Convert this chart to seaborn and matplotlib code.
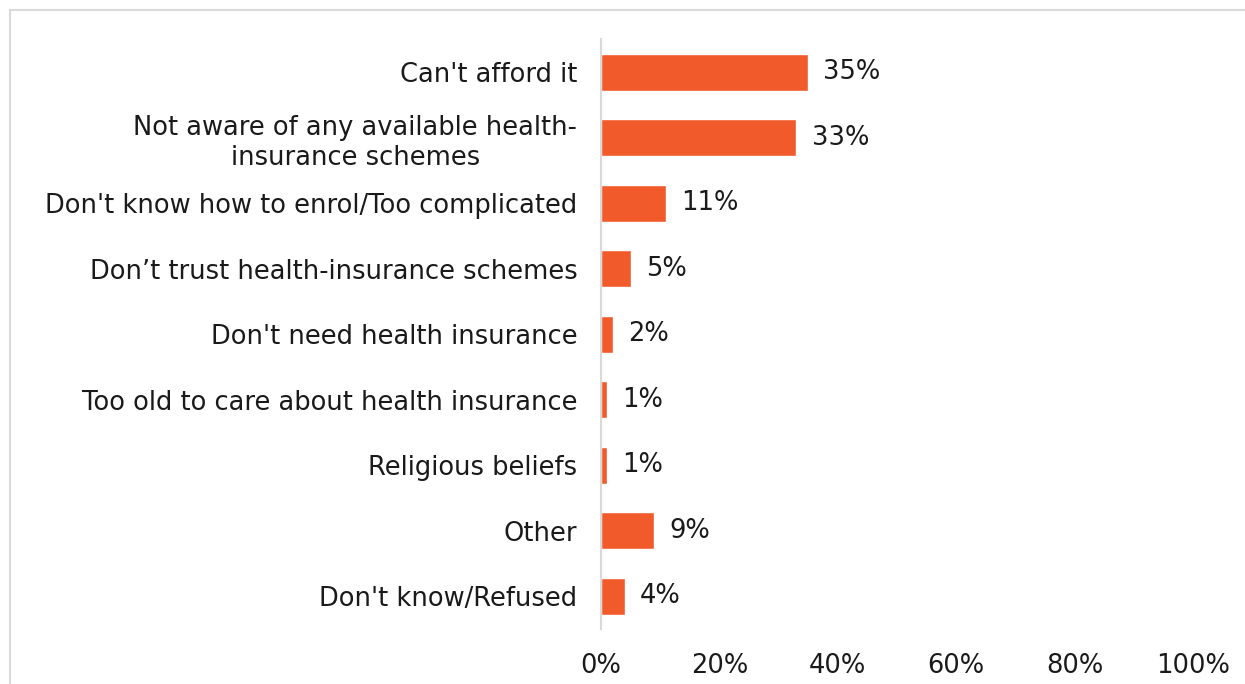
import matplotlib
matplotlib.use("Agg")
import matplotlib.pyplot as plt
from matplotlib.lines import Line2D
from matplotlib.ticker import FuncFormatter
import pandas as pd
import seaborn as sns

reasons = [
    "Can't afford it",
    "Not aware of any available health-\ninsurance schemes",
    "Don't know how to enrol/Too complicated",
    "Don\u2019t trust health-insurance schemes",
    "Don't need health insurance",
    "Too old to care about health insurance",
    "Religious beliefs",
    "Other",
    "Don't know/Refused",
]
shares = [35, 33, 11, 5, 2, 1, 1, 9, 4]
x_ticks = [0, 20, 40, 60, 80, 100]

BAR = "#F15A2B"
GRID = "#D9D9D9"
TEXT = "#1A1A1A"
FS = 18.5

sns.set_theme(style="white")
plt.rcParams["font.family"] = ["DejaVu Sans"]

df = pd.DataFrame({"reason": reasons, "share": shares})

fig = plt.figure(figsize=(12.45, 6.84), dpi=100)
ax = fig.add_axes([0.4827, 0.0804, 0.4755, 0.8619])

sns.barplot(data=df, x="share", y="reason", color=BAR, width=0.56,
            saturation=1, ax=ax, orient="h")

ax.set_xlim(0, 100)
ax.set_ylim(len(reasons) - 0.5, -0.5)
ax.set_xticks(x_ticks)
ax.xaxis.set_major_formatter(FuncFormatter(lambda v, p: f"{v:.0f}%"))
ax.set_xlabel("")
ax.set_ylabel("")

for s in ["top", "right", "bottom"]:
    ax.spines[s].set_visible(False)
ax.spines["left"].set_color(GRID)
ax.spines["left"].set_linewidth(1.5)

ax.tick_params(axis="y", length=0, pad=17, labelsize=FS, labelcolor=TEXT)
ax.tick_params(axis="x", length=0, pad=17, labelsize=FS, labelcolor=TEXT)
for lbl in ax.get_yticklabels():
    lbl.set_multialignment("center")

ax.bar_label(ax.containers[0], labels=[f"{v}%" for v in shares],
             padding=11, fontsize=FS, color=TEXT)

# thin frame lines along the top and left edges
fig.add_artist(Line2D([10 / 1245, 1.0], [1 - 10 / 684, 1 - 10 / 684],
                      transform=fig.transFigure, color=GRID, lw=1.5))
fig.add_artist(Line2D([10 / 1245, 10 / 1245], [0.0, 1 - 10 / 684],
                      transform=fig.transFigure, color=GRID, lw=1.5))

fig.savefig("out.png", dpi=100)
